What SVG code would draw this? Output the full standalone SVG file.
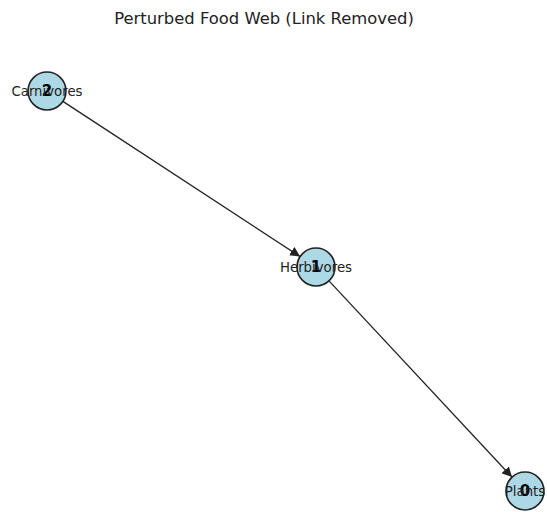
<svg xmlns="http://www.w3.org/2000/svg" width="547" height="512" viewBox="0 0 547 512">
  <style>
    .node { fill: #add8e6; stroke: #222; stroke-width: 1.6; }
    .edge { stroke: #222; stroke-width: 1.3; fill: none; marker-end: url(#arrow); }
    .name { font-family: "DejaVu Sans", sans-serif; font-size: 13.3px; fill: #222; text-anchor: middle; dominant-baseline: central; }
    .idx { font-family: "DejaVu Sans", sans-serif; font-size: 15px; font-weight: bold; fill: #000; text-anchor: middle; dominant-baseline: central; }
    .title { font-family: "DejaVu Sans", sans-serif; font-size: 16.4px; fill: #222; text-anchor: middle; }
  </style>
  <defs>
    <marker id="arrow" viewBox="0 0 10 10" refX="10" refY="5" markerWidth="10" markerHeight="10" markerUnits="userSpaceOnUse" orient="auto">
      <path d="M0,0 L10,5 L0,10 z" fill="#222"/>
    </marker>
  </defs>
  <rect width="547" height="512" fill="#fff"/>
  <text class="title" x="264" y="24">Perturbed Food Web (Link Removed)</text>
  <g id="edges">
    <line class="edge" x1="62.9" y1="101.4" x2="300.1" y2="256.6"/>
    <line class="edge" x1="329" y1="280.9" x2="512" y2="477.1"/>
  </g>
  <g id="node-carnivores">
    <circle class="node" cx="47" cy="91" r="19"/>
    <text class="idx" x="47" y="91">2</text>
    <text class="name" x="47" y="91">Carnivores</text>
  </g>
  <g id="node-herbivores">
    <circle class="node" cx="316" cy="267" r="19"/>
    <text class="idx" x="316" y="267">1</text>
    <text class="name" x="316" y="267">Herbivores</text>
  </g>
  <g id="node-plants">
    <circle class="node" cx="525" cy="491" r="19"/>
    <text class="idx" x="525" y="491">0</text>
    <text class="name" x="525" y="491">Plants</text>
  </g>
</svg>
